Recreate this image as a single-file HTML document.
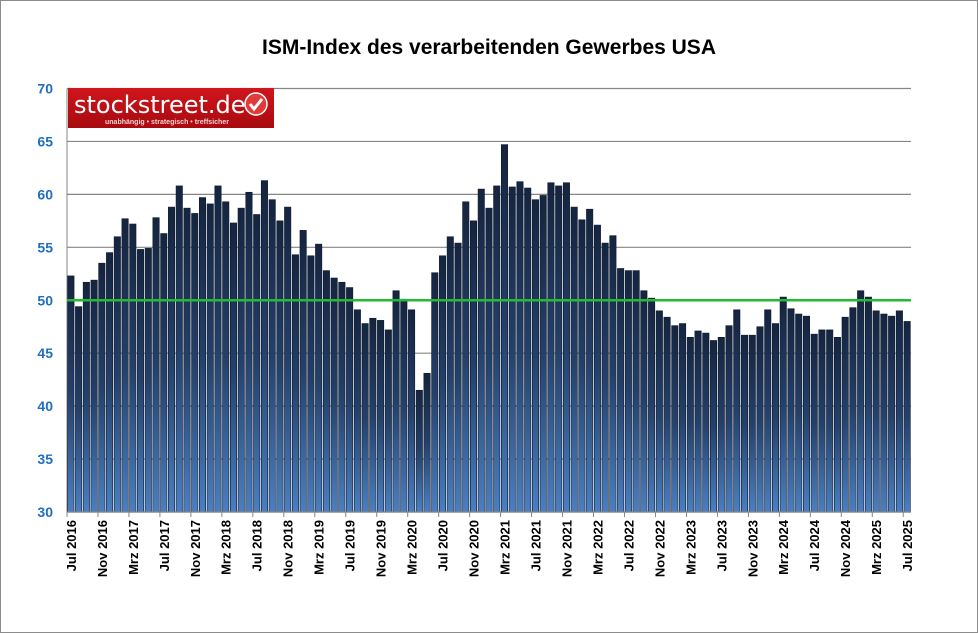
<!DOCTYPE html>
<html><head><meta charset="utf-8"><style>
body{margin:0;background:#fff;}
#wrap{position:relative;width:976px;height:631px;border:1px solid #8c8c8c;font-family:"Liberation Sans",sans-serif;overflow:hidden}
</style></head><body>
<div id="wrap">
<svg id="chart" width="976" height="631">
<defs>
<linearGradient id="bg" x1="0" y1="0" x2="0" y2="1"><stop offset="0" stop-color="#15243f"/><stop offset="0.5" stop-color="#24406a"/><stop offset="1" stop-color="#4a7fc2"/></linearGradient>
<linearGradient id="logo" x1="0" y1="0" x2="0" y2="1"><stop offset="0" stop-color="#d0161c"/><stop offset="1" stop-color="#a80a10"/></linearGradient>
</defs>
<text x="488" y="53" text-anchor="middle" font-size="21" font-weight="bold" fill="#000">ISM-Index des verarbeitenden Gewerbes USA</text>
<g id="grid"></g><g id="bars"></g><g id="xaxis"></g>
<g>
<rect x="67" y="87" width="206" height="40" fill="url(#logo)"/>
<text x="73" y="112" font-size="24" fill="#fff" font-family="DejaVu Sans, sans-serif">stockstreet.de</text>
<text x="104" y="123" font-size="7" font-weight="bold" fill="#f3d0d0">unabhängig • strategisch • treffsicher</text>
<circle cx="255" cy="103" r="11" fill="#e23a3a" stroke="#fff" stroke-width="1.5"/>
<path d="M249 103 l4 5 l8 -10" stroke="#fff" stroke-width="3" fill="none"/>
</g>
</svg>
</div>
<script>
const months=["Jul 2016","Nov 2016","Mrz 2017","Jul 2017","Nov 2017","Mrz 2018","Jul 2018","Nov 2018","Mrz 2019","Jul 2019","Nov 2019","Mrz 2020","Jul 2020","Nov 2020","Mrz 2021","Jul 2021","Nov 2021","Mrz 2022","Jul 2022","Nov 2022","Mrz 2023","Jul 2023","Nov 2023","Mrz 2024","Jul 2024","Nov 2024","Mrz 2025","Jul 2025"];
const values=[52.3,49.4,51.7,51.9,53.5,54.5,56.0,57.7,57.2,54.8,54.9,57.8,56.3,58.8,60.8,58.7,58.2,59.7,59.1,60.8,59.3,57.3,58.7,60.2,58.1,61.3,59.5,57.5,58.8,54.3,56.6,54.2,55.3,52.8,52.1,51.7,51.2,49.1,47.8,48.3,48.1,47.2,50.9,50.1,49.1,41.5,43.1,52.6,54.2,56.0,55.4,59.3,57.5,60.5,58.7,60.8,64.7,60.7,61.2,60.6,59.5,59.9,61.1,60.8,61.1,58.8,57.6,58.6,57.1,55.4,56.1,53.0,52.8,52.8,50.9,50.2,49.0,48.4,47.6,47.8,46.5,47.1,46.9,46.2,46.5,47.6,49.1,46.7,46.7,47.5,49.1,47.8,50.3,49.2,48.7,48.5,46.8,47.2,47.2,46.5,48.4,49.3,50.9,50.3,49.0,48.7,48.5,49.0,48.0];
const yTicks=[30,35,40,45,50,55,60,65,70];
const threshold=[50];
const NS="http://www.w3.org/2000/svg";
const X0=66,X1=910,Y70=87.5,Y30=511;
const pitch=(X1-X0)/values.length;
function y(v){return Y30-(v-30)*(Y30-Y70)/40;}
function x(i){return X0+pitch*(i+0.5);}
function mk(t,a,p){const e=document.createElementNS(NS,t);for(const k in a)e.setAttribute(k,a[k]);p.appendChild(e);return e;}
const grid=document.getElementById('grid'),bars=document.getElementById('bars'),xa=document.getElementById('xaxis');
yTicks.forEach(v=>{
 const l=mk('line',{x1:X0,x2:X1,y1:y(v),y2:y(v),stroke:'#868686','stroke-width':1.2},grid);
 
 
 const t=mk('text',{x:52,y:y(v)+5,'text-anchor':'end','font-size':14,'font-weight':'bold',fill:'#1f6fc0'},grid);
 t.textContent=v;
 
 
});
mk('line',{x1:X0,x2:X0,y1:Y70,y2:Y30,stroke:'#868686'},grid);
values.forEach((v,i)=>{
 const r=mk('rect',{x:x(i)-3.2,y:y(v),width:6.4,height:Y30-y(v),fill:'url(#bg)',stroke:'#0e1a2e','stroke-width':0.6},bars);
 
 
});
const g=mk('line',{x1:X0,x2:X1,y1:y(threshold[0]),y2:y(threshold[0]),stroke:'#22bb33','stroke-width':2.5},bars);


mk('line',{x1:X0,x2:X1,y1:Y30,y2:Y30,stroke:'#868686','stroke-width':1.2},xa);
months.forEach((m,k)=>{
 const i=k*4;const cx=x(i);
 mk('line',{x1:cx-pitch/2,x2:cx-pitch/2,y1:Y30,y2:Y30+5,stroke:'#868686'},xa);
 const t=mk('text',{x:0,y:0,'text-anchor':'end','font-size':13,'font-weight':'bold',fill:'#000',transform:`translate(${cx+5},${Y30+8}) rotate(-90)`},xa);
 t.textContent=m;
 
 
});
</script>
</body></html>
